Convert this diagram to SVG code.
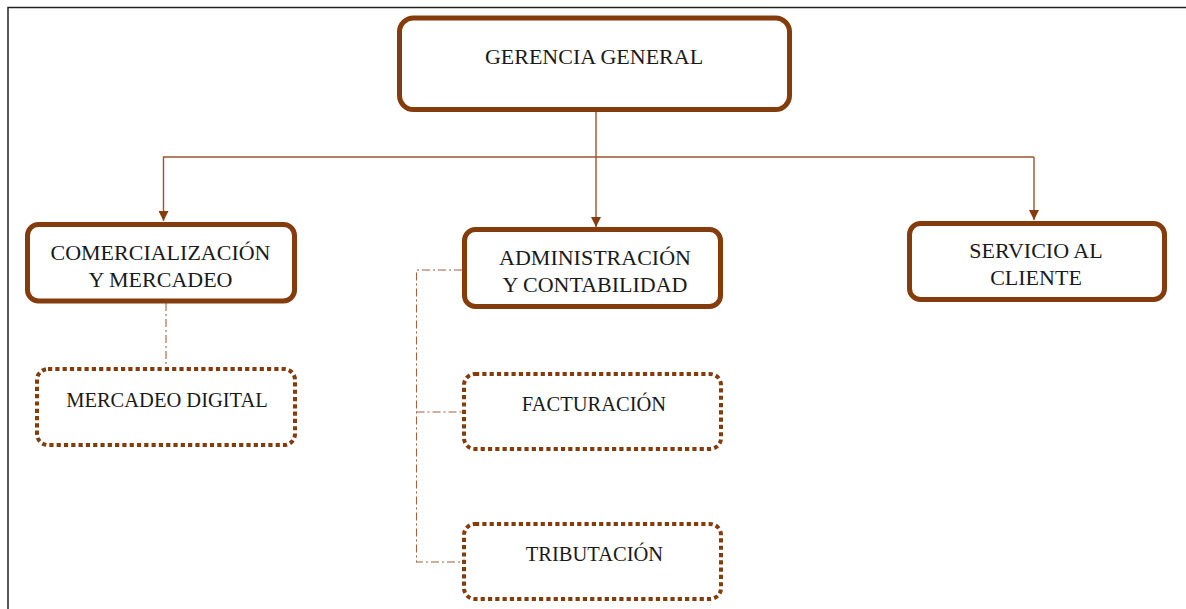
<svg xmlns="http://www.w3.org/2000/svg" width="1186" height="609" viewBox="0 0 1186 609">
  <defs>
    <style>
      .box { fill: #ffffff; stroke: #843C0C; stroke-width: 5; }
      .sub { fill: #ffffff; stroke: #843C0C; stroke-width: 4; stroke-dasharray: 4.2 3.1; }
      .lbl { font-family: "Liberation Serif", "Times New Roman", serif; font-size: 22px; fill: #1a1a1a; text-anchor: middle; }
      .lbl-s { font-family: "Liberation Serif", "Times New Roman", serif; font-size: 20.5px; fill: #1a1a1a; text-anchor: middle; }
      .link { fill: none; stroke: #9A5530; stroke-width: 1.4; }
      .dd { fill: none; stroke: #A0613C; stroke-width: 1.1; stroke-dasharray: 8 3 2 3; }
    </style>
    <marker id="arrow" viewBox="0 0 10 10" refX="10" refY="5" markerWidth="10" markerHeight="10" markerUnits="userSpaceOnUse" orient="auto">
      <path d="M0,0 L10,5 L0,10 Z" fill="#843C0C"/>
    </marker>
  </defs>

  <rect x="0" y="0" width="1186" height="609" fill="#ffffff"/>
  <!-- frame -->
  <path d="M8,609 V7.5 H1186" fill="none" stroke="#222222" stroke-width="1.5"/>

  <g id="connectors">
    <path class="link" d="M596,112 V227" marker-end="url(#arrow)"/>
    <path class="link" d="M1034,157 H163.5 V221" marker-end="url(#arrow)"/>
    <path class="link" d="M1034,157 V220" marker-end="url(#arrow)"/>
    <path class="dd" d="M166,303 V367"/>
    <path class="dd" d="M462,270 H416.5 V562 H462"/>
    <path class="dd" d="M416.5,412 H462"/>
  </g>

  <g id="gerencia">
    <rect class="box" x="399.5" y="18" width="390" height="91.5" rx="14"/>
    <text class="lbl" x="594" y="64">GERENCIA GENERAL</text>
  </g>

  <g id="comercializacion">
    <rect class="box" x="27.5" y="224.5" width="267" height="76.5" rx="11"/>
    <text class="lbl" x="160.5" y="260">COMERCIALIZACIÓN</text>
    <text class="lbl" x="160.5" y="287">Y MERCADEO</text>
  </g>

  <g id="administracion">
    <rect class="box" x="464.5" y="229.5" width="256" height="77" rx="11"/>
    <text class="lbl" x="595" y="265">ADMINISTRACIÓN</text>
    <text class="lbl" x="595" y="292">Y CONTABILIDAD</text>
  </g>

  <g id="servicio">
    <rect class="box" x="909.5" y="223.5" width="255" height="76" rx="11"/>
    <text class="lbl" x="1036" y="258">SERVICIO AL</text>
    <text class="lbl" x="1036" y="285">CLIENTE</text>
  </g>

  <g id="mercadeo-digital">
    <rect class="sub" x="37" y="369" width="258" height="76" rx="11"/>
    <text class="lbl-s" x="167" y="407">MERCADEO DIGITAL</text>
  </g>

  <g id="facturacion">
    <rect class="sub" x="464" y="374" width="257" height="75" rx="11"/>
    <text class="lbl-s" x="594" y="411">FACTURACIÓN</text>
  </g>

  <g id="tributacion">
    <rect class="sub" x="464" y="524" width="257" height="75" rx="11"/>
    <text class="lbl-s" x="594.5" y="561">TRIBUTACIÓN</text>
  </g>
</svg>
